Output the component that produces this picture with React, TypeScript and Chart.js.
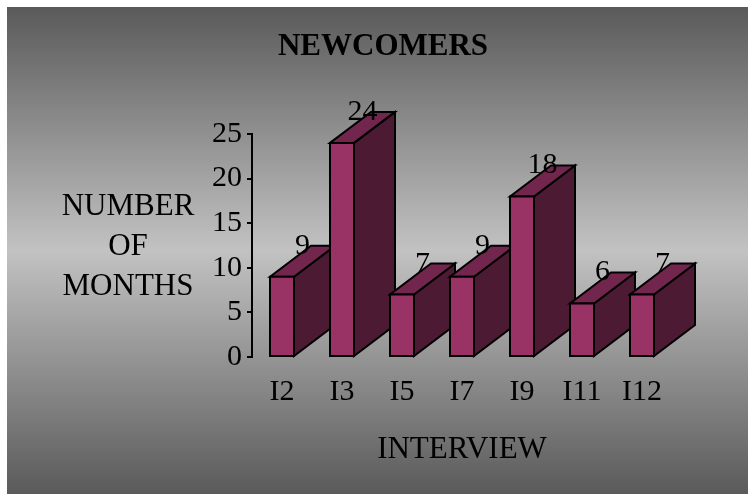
import React, { useEffect, useRef } from 'react';
import { Chart, registerables } from 'chart.js';

Chart.register(...registerables);

const categories = ['I2', 'I3', 'I5', 'I7', 'I9', 'I11', 'I12'];
const months = [9, 24, 7, 9, 18, 6, 7];
const yTickMin = 0;
const yTickMax = 25;
const yTickStep = 5;
const chartTitle = 'NEWCOMERS';
const yTitleLines = ['NUMBER', 'OF', 'MONTHS'];
const xTitle = 'INTERVIEW';

const FONT = '"Liberation Serif", "Times New Roman", serif';
const DX = 41;
const DY = 31;
const FRONT = '#993366';
const TOP = '#73264d';
const SIDE = '#4d1a33';

export default function App() {
  const ref = useRef<HTMLCanvasElement>(null);

  useEffect(() => {
    document.body.style.margin = '0';
    const canvas = ref.current!;

    const plugin = {
      id: 'custom3d',
      beforeDraw(chart: any) {
        const { ctx, width, height } = chart;
        ctx.save();
        ctx.fillStyle = '#ffffff';
        ctx.fillRect(0, 0, width, height);
        const g = ctx.createLinearGradient(0, 7, 0, height);
        g.addColorStop(0, '#5a5a5a');
        g.addColorStop(0.5, '#c2c2c2');
        g.addColorStop(1, '#5a5a5a');
        ctx.fillStyle = g;
        ctx.fillRect(7, 7, width - 7, height - 7);

        ctx.fillStyle = '#000';
        ctx.textAlign = 'center';
        ctx.textBaseline = 'alphabetic';
        ctx.font = `bold 31px ${FONT}`;
        ctx.fillText(chartTitle, 383, 55);

        ctx.font = `31px ${FONT}`;
        yTitleLines.forEach((t, i) => ctx.fillText(t, 128, 215 + i * 40));

        const xs = chart.scales.x;
        ctx.fillText(xTitle, (chart.chartArea.left + chart.chartArea.right) / 2, 458);
        ctx.font = `30px ${FONT}`;
        categories.forEach((c, i) => {
          ctx.fillText(c, xs.getPixelForValue(i), 400);
        });
        ctx.restore();
      },
      afterDatasetsDraw(chart: any) {
        const { ctx } = chart;
        const meta = chart.getDatasetMeta(0);
        ctx.save();
        ctx.lineWidth = 2;
        ctx.strokeStyle = '#000';
        ctx.lineJoin = 'miter';
        const tops: { cx: number; yt: number }[] = [];
        meta.data.forEach((el: any) => {
          const { x, y, base, width } = el.getProps(['x', 'y', 'base', 'width'], true);
          const x0 = x - width / 2;
          const x1 = x + width / 2;
          const yt = y;
          const yb = base;
          // side
          ctx.beginPath();
          ctx.moveTo(x1, yb);
          ctx.lineTo(x1, yt);
          ctx.lineTo(x1 + DX, yt - DY);
          ctx.lineTo(x1 + DX, yb - DY);
          ctx.closePath();
          ctx.fillStyle = SIDE;
          ctx.fill();
          ctx.stroke();
          // top
          ctx.beginPath();
          ctx.moveTo(x0, yt);
          ctx.lineTo(x0 + DX, yt - DY);
          ctx.lineTo(x1 + DX, yt - DY);
          ctx.lineTo(x1, yt);
          ctx.closePath();
          ctx.fillStyle = TOP;
          ctx.fill();
          ctx.stroke();
          // front
          ctx.beginPath();
          ctx.rect(x0, yt, width, yb - yt);
          ctx.fillStyle = FRONT;
          ctx.fill();
          ctx.stroke();
          tops.push({ cx: x, yt });
        });
        ctx.fillStyle = '#000';
        ctx.font = `30px ${FONT}`;
        ctx.textAlign = 'center';
        ctx.textBaseline = 'alphabetic';
        tops.forEach((t, i) => {
          ctx.fillText(String(months[i]), t.cx + DX / 2, t.yt - DY + 8);
        });
        ctx.restore();
      },
    };

    const chart = new Chart(canvas, {
      type: 'bar',
      data: {
        labels: categories,
        datasets: [
          {
            data: months,
            backgroundColor: 'rgba(0,0,0,0)',
            borderWidth: 0,
            categoryPercentage: 1,
            barPercentage: 0.4,
          },
        ],
      },
      options: {
        responsive: false,
        animation: false,
        layout: { padding: { top: 134, bottom: 137, left: 0, right: 76 } },
        plugins: {
          legend: { display: false },
          tooltip: { enabled: false },
          title: { display: false },
        },
        scales: {
          x: {
            display: false,
            offset: true,
          },
          y: {
            min: yTickMin,
            max: yTickMax,
            afterFit(scale: any) {
              scale.width = 252;
            },
            ticks: {
              stepSize: yTickStep,
              color: '#000',
              padding: 5,
              font: { family: FONT, size: 30 },
            },
            grid: {
              display: true,
              drawOnChartArea: false,
              drawTicks: true,
              tickLength: 5,
              color: '#000',
              lineWidth: 2,
            },
            border: { display: true, color: '#000', width: 2 },
          },
        },
      },
      plugins: [plugin],
    });

    return () => chart.destroy();
  }, []);

  return (
    <canvas
      ref={ref}
      width={748}
      height={494}
      style={{ display: 'block', width: 748, height: 494 }}
    />
  );
}
